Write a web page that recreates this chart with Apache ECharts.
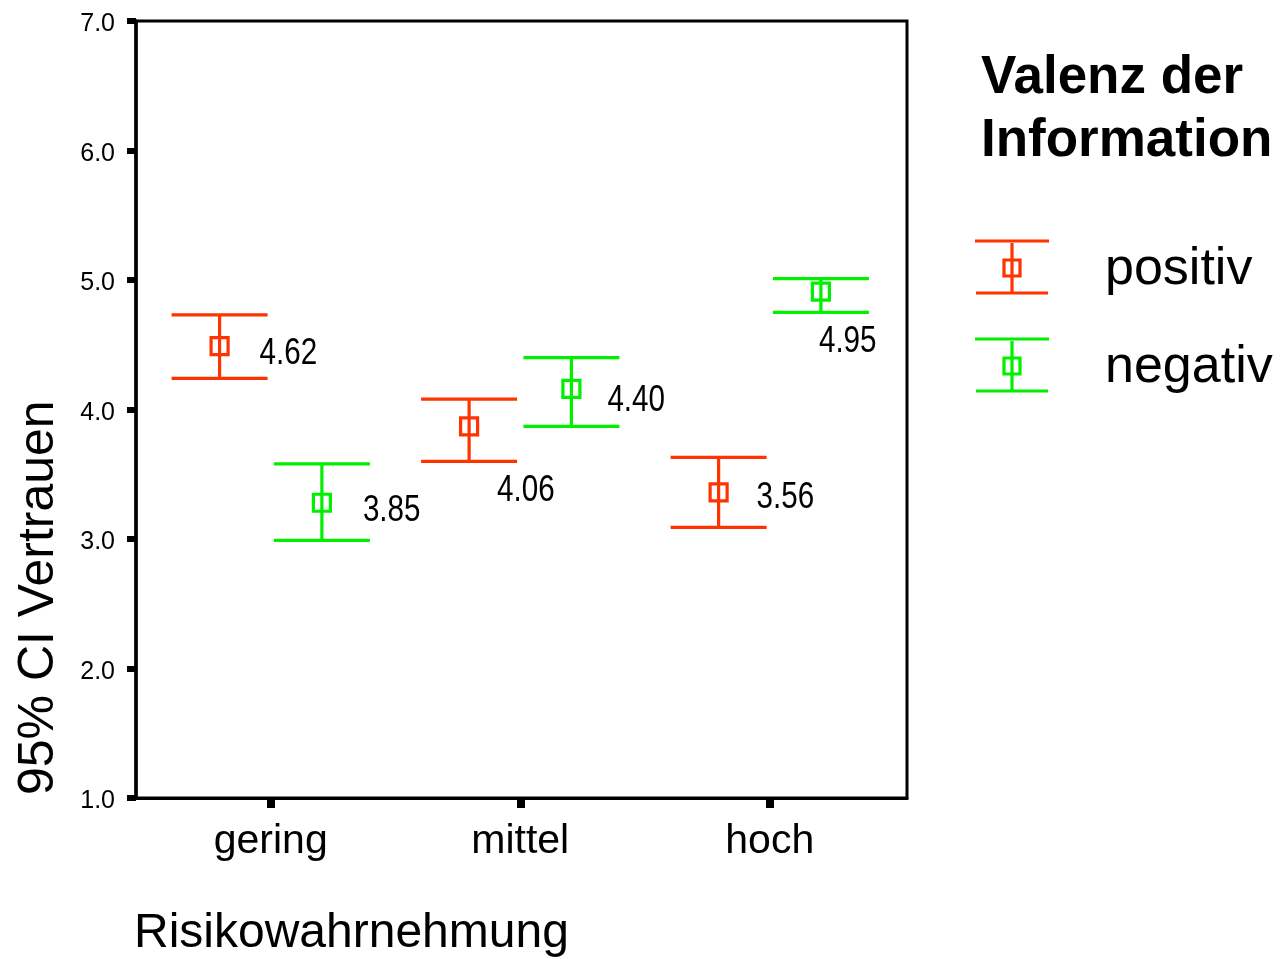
<!DOCTYPE html>
<html>
<head>
<meta charset="utf-8">
<script src="https://cdn.jsdelivr.net/npm/echarts@6/dist/echarts.min.js"></script>
<style>html,body{margin:0;padding:0;background:#fff}#c{width:1282px;height:959px}</style>
</head>
<body>
<div id="c"></div>
<script>
// ---- data ----
const categories = ['gering', 'mittel', 'hoch'];
const positivMean = [4.49, 3.87, 3.36];
const positivLow  = [4.24, 3.60, 3.09];
const positivHigh = [4.73, 4.08, 3.63];
const positivText = ['4.62', '4.06', '3.56'];
const negativMean = [3.28, 4.16, 4.91];
const negativLow  = [2.99, 3.87, 4.75];
const negativHigh = [3.58, 4.40, 5.01];
const negativText = ['3.85', '4.40', '4.95'];
const yTickValues = [1, 2, 3, 4, 5, 6, 7];
const groupNames = ['positiv', 'negativ'];

// ---- layout / style (not data) ----
const RED = '#ff3300';
const GREEN = '#00f000';
const SHIFT = 0.205;     // group offset within category (axis units)
const CAP = 48;          // half cap width (px)
const SQ = 17;           // square side (px)
const LW = 3.2;
const LABEL_FONT = '37px "Liberation Sans", Arial, sans-serif';
const LABEL_SCALE_X = 0.8;
const posLabelOffset = [[40, 8], [28, 64], [38, 5]];
const negLabelOffset = [[41, 8], [36, 12], [-2, 50]];

function buildData(low, high, mean) {
  return categories.map((c, i) => [i + 1, low[i], high[i], mean[i], i]);
}

function makeRender(shift, color, texts, offsets) {
  return function (params, api) {
    const x = api.value(0) + shift;
    const idx = api.value(4);
    const pl = api.coord([x, api.value(1)]);
    const ph = api.coord([x, api.value(2)]);
    const pm = api.coord([x, api.value(3)]);
    const ls = { stroke: color, lineWidth: LW, fill: null };
    const off = offsets[idx];
    return {
      type: 'group',
      children: [
        { type: 'line', shape: { x1: pl[0], y1: pl[1], x2: ph[0], y2: ph[1] }, style: ls },
        { type: 'line', shape: { x1: ph[0] - CAP, y1: ph[1], x2: ph[0] + CAP, y2: ph[1] }, style: ls },
        { type: 'line', shape: { x1: pl[0] - CAP, y1: pl[1], x2: pl[0] + CAP, y2: pl[1] }, style: ls },
        { type: 'rect', shape: { x: pm[0] - SQ / 2, y: pm[1] - SQ / 2, width: SQ, height: SQ }, style: { stroke: color, lineWidth: LW, fill: null } },
        { type: 'text', x: pm[0] + off[0], y: pm[1] + off[1], scaleX: LABEL_SCALE_X,
          style: { text: texts[idx], fill: '#000', font: LABEL_FONT, textAlign: 'left', textVerticalAlign: 'middle' } }
      ]
    };
  };
}

function legendIcon(cx, cy, color) {
  const ls = { stroke: color, lineWidth: LW };
  return [
    { type: 'line', shape: { x1: cx - 37, y1: cy - 27, x2: cx + 37, y2: cy - 27 }, style: ls },
    { type: 'line', shape: { x1: cx - 36, y1: cy + 25, x2: cx + 36, y2: cy + 25 }, style: ls },
    { type: 'line', shape: { x1: cx, y1: cy - 25, x2: cx, y2: cy + 25 }, style: ls },
    { type: 'rect', shape: { x: cx - 8, y: cy - 8, width: 16, height: 16 }, style: { stroke: color, lineWidth: LW, fill: null } }
  ];
}

const chart = echarts.init(document.getElementById('c'), null, { renderer: 'canvas' });
chart.setOption({
  animation: false,
  backgroundColor: '#fff',
  grid: { left: 136, right: 375, top: 21, bottom: 161, show: true, borderColor: '#000', borderWidth: 3, backgroundColor: 'transparent' },
  xAxis: {
    type: 'value', min: 0.46, max: 3.55,
    axisLine: { show: true, lineStyle: { color: '#000', width: 3 } },
    axisTick: { show: true, customValues: [1, 2, 3], length: 10, lineStyle: { color: '#000', width: 8 } },
    axisLabel: { show: true, customValues: [1, 2, 3], formatter: v => categories[Math.round(v) - 1],
      color: '#000', fontSize: 41, fontFamily: '"Liberation Sans", Arial, sans-serif', margin: 23 },
    splitLine: { show: false }
  },
  yAxis: {
    type: 'value', min: 1, max: 7, interval: 1,
    axisLine: { show: true, lineStyle: { color: '#000', width: 3.5 } },
    axisTick: { show: true, customValues: yTickValues, length: 9, lineStyle: { color: '#000', width: 6 } },
    axisLabel: { show: true, customValues: yTickValues, formatter: v => v.toFixed(1),
      color: '#000', fontSize: 25, fontFamily: '"Liberation Sans", Arial, sans-serif', margin: 21,
      verticalAlign: 'top', lineHeight: 25, padding: [-9, 0, 0, 0] },
    splitLine: { show: false }
  },
  series: [
    { name: groupNames[0], type: 'custom', renderItem: makeRender(-SHIFT, RED, positivText, posLabelOffset),
      data: buildData(positivLow, positivHigh, positivMean), encode: { x: 0, y: [1, 2, 3] }, clip: false },
    { name: groupNames[1], type: 'custom', renderItem: makeRender(SHIFT, GREEN, negativText, negLabelOffset),
      data: buildData(negativLow, negativHigh, negativMean), encode: { x: 0, y: [1, 2, 3] }, clip: false }
  ],
  graphic: [
    { type: 'text', x: 64, y: 795, rotation: Math.PI / 2,
      style: { text: '95% CI Vertrauen', fill: '#000', font: '50px "Liberation Sans", Arial, sans-serif', textAlign: 'left', textVerticalAlign: 'bottom' } },
    { type: 'text', x: 134, y: 934,
      style: { text: 'Risikowahrnehmung', fill: '#000', font: '48px "Liberation Sans", Arial, sans-serif', textAlign: 'left', textVerticalAlign: 'middle' } },
    { type: 'text', x: 981, y: 78,
      style: { text: 'Valenz der', fill: '#000', font: 'bold 53px "Liberation Sans", Arial, sans-serif', textAlign: 'left', textVerticalAlign: 'middle' } },
    { type: 'text', x: 981, y: 141,
      style: { text: 'Information', fill: '#000', font: 'bold 53px "Liberation Sans", Arial, sans-serif', textAlign: 'left', textVerticalAlign: 'middle' } },
    { type: 'group', children: legendIcon(1012, 268, RED) },
    { type: 'group', children: legendIcon(1012, 366, GREEN) },
    { type: 'text', x: 1105, y: 270,
      style: { text: groupNames[0], fill: '#000', font: '52px "Liberation Sans", Arial, sans-serif', textAlign: 'left', textVerticalAlign: 'middle' } },
    { type: 'text', x: 1105, y: 368,
      style: { text: groupNames[1], fill: '#000', font: '52px "Liberation Sans", Arial, sans-serif', textAlign: 'left', textVerticalAlign: 'middle' } }
  ]
});
</script>
</body>
</html>
